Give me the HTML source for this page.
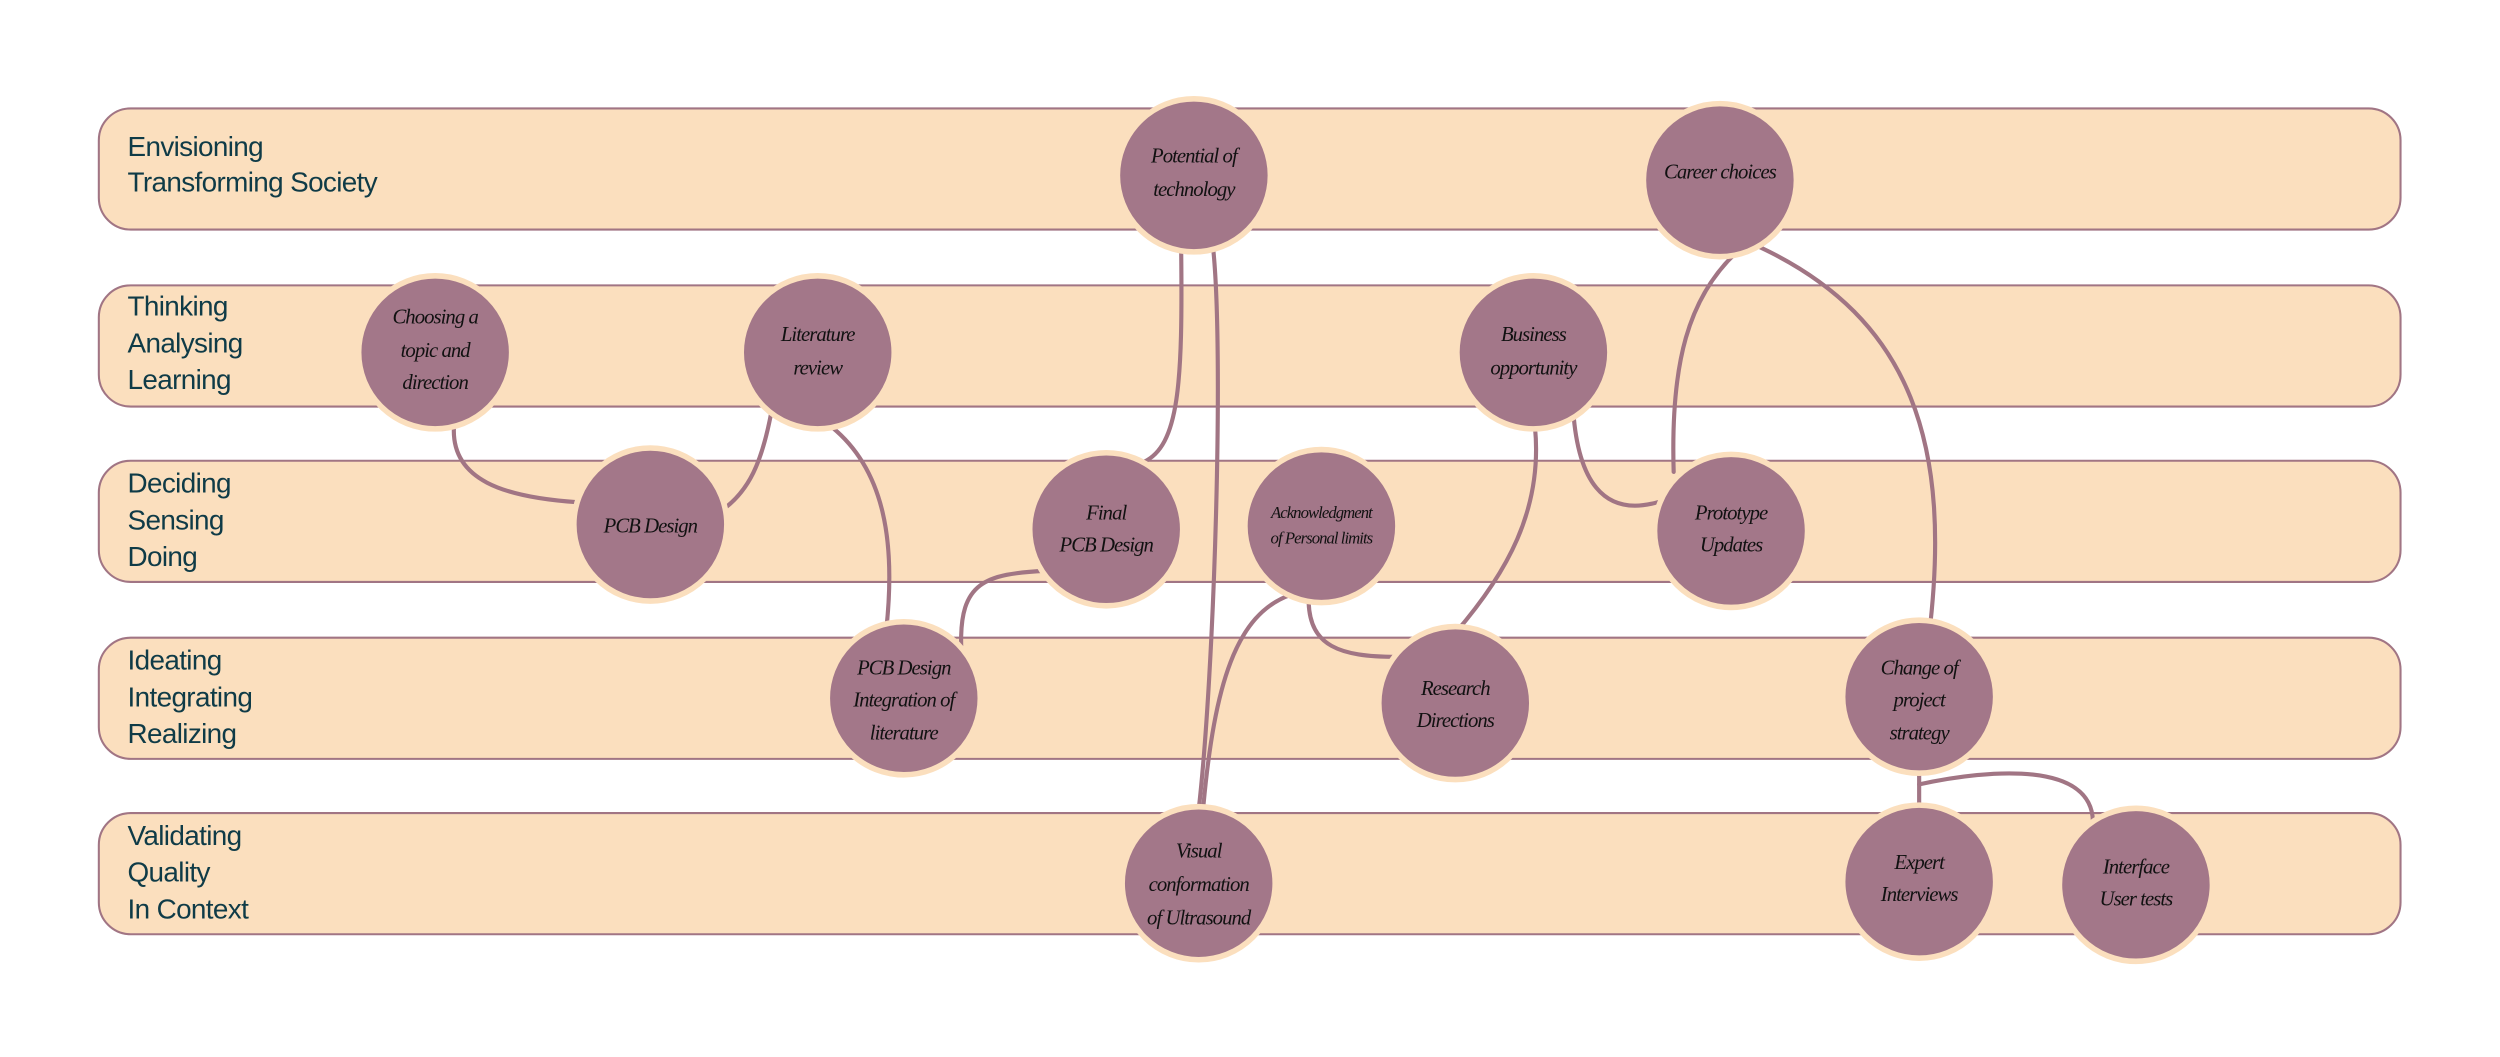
<!DOCTYPE html>
<html><head><meta charset="utf-8"><style>
html,body{margin:0;padding:0;background:#fff;}
svg{display:block;}
.lane{fill:#fbdfbe;stroke:#a17584;stroke-width:1.3;}
.lbl{font-family:"Liberation Sans",sans-serif;font-size:17.5px;fill:#0f3b47;letter-spacing:-0.4px;}
.ln{fill:none;stroke:#a17584;stroke-width:2.6;stroke-linecap:round;}
.ring{fill:#a37789;stroke:#fbdfbe;stroke-width:3.5;}
.t{font-family:"Liberation Serif",serif;font-style:italic;font-size:13px;fill:#111;text-anchor:middle;letter-spacing:-0.6px;}
</style></head><body>
<svg width="2500" height="1057" viewBox="0 0 1568.4 663" preserveAspectRatio="none" xmlns="http://www.w3.org/2000/svg">
<rect class="lane" x="62" y="68" width="1444" height="76" rx="20"/>
<rect class="lane" x="62" y="179" width="1444" height="76" rx="20"/>
<rect class="lane" x="62" y="289" width="1444" height="76" rx="20"/>
<rect class="lane" x="62" y="400" width="1444" height="76" rx="20"/>
<rect class="lane" x="62" y="510" width="1444" height="76" rx="20"/>

<text class="lbl" x="80" y="98">Envisioning</text>
<text class="lbl" x="80" y="120">Transforming Society</text>
<text class="lbl" x="80" y="198">Thinking</text>
<text class="lbl" x="80" y="221">Analysing</text>
<text class="lbl" x="80" y="244">Learning</text>
<text class="lbl" x="80" y="309">Deciding</text>
<text class="lbl" x="80" y="332">Sensing</text>
<text class="lbl" x="80" y="355">Doing</text>
<text class="lbl" x="80" y="420">Ideating</text>
<text class="lbl" x="80" y="443">Integrating</text>
<text class="lbl" x="80" y="466">Realizing</text>
<text class="lbl" x="80" y="530">Validating</text>
<text class="lbl" x="80" y="553">Quality</text>
<text class="lbl" x="80" y="576">In Context</text>

<path class="ln" d="M285,265 C281,302 318,312 362,315"/>
<path class="ln" d="M484,258 C478,290 470,308 453,320"/>
<path class="ln" d="M522,268 C555,295 562,340 556,395"/>
<path class="ln" d="M741,155 C742,240 740,280 717,290"/>
<path class="ln" d="M761,155 C768,220 762,420 752,508"/>
<path class="ln" d="M656,358 C618,360 602,365 603,405"/>
<path class="ln" d="M810,373 C775,385 762,430 755,505"/>
<path class="ln" d="M821,378 C822,405 840,412 876,412"/>
<path class="ln" d="M963,268 C968,320 945,360 913,397"/>
<path class="ln" d="M987,258 C990,300 1005,325 1040,315"/>
<path class="ln" d="M1093,155 C1058,185 1048,230 1050,296"/>
<path class="ln" d="M1104,155 C1200,200 1225,280 1210,400"/>
<path class="ln" d="M1204,480 L1204,510"/>
<path class="ln" d="M1204,492 C1250,482 1312,478 1313,515"/>

<circle class="ring" cx="749" cy="110" r="48"/>
<text class="t" x="749" y="102">Potential of</text><text class="t" x="749" y="123">technology</text>
<circle class="ring" cx="1079" cy="113" r="48"/>
<text class="t" x="1079" y="112">Career choices</text>
<circle class="ring" cx="273" cy="221" r="48"/>
<text class="t" x="273" y="203">Choosing a</text><text class="t" x="273" y="224">topic and</text><text class="t" x="273" y="244">direction</text>
<circle class="ring" cx="513" cy="221" r="48"/>
<text class="t" x="513" y="214">Literature</text><text class="t" x="513" y="235">review</text>
<circle class="ring" cx="962" cy="221" r="48"/>
<text class="t" x="962" y="214">Business</text><text class="t" x="962" y="235">opportunity</text>
<circle class="ring" cx="408" cy="329" r="48"/>
<text class="t" x="408" y="334">PCB Design</text>
<circle class="ring" cx="694" cy="332" r="48"/>
<text class="t" x="694" y="326">Final</text><text class="t" x="694" y="346">PCB Design</text>
<circle class="ring" cx="829" cy="330" r="48"/>
<text class="t" x="829" y="325" style="font-size:10.5px">Acknowledgment</text><text class="t" x="829" y="341" style="font-size:10.5px">of Personal limits</text>
<circle class="ring" cx="1086" cy="333" r="48"/>
<text class="t" x="1086" y="326">Prototype</text><text class="t" x="1086" y="346">Updates</text>
<circle class="ring" cx="567" cy="438" r="48"/>
<text class="t" x="567" y="423">PCB Design</text><text class="t" x="567" y="443">Integration of</text><text class="t" x="567" y="464">literature</text>
<circle class="ring" cx="913" cy="441" r="48"/>
<text class="t" x="913" y="436">Research</text><text class="t" x="913" y="456">Directions</text>
<circle class="ring" cx="1204" cy="437" r="48"/>
<text class="t" x="1204" y="423">Change of</text><text class="t" x="1204" y="443">project</text><text class="t" x="1204" y="464">strategy</text>
<circle class="ring" cx="752" cy="554" r="48"/>
<text class="t" x="752" y="538">Visual</text><text class="t" x="752" y="559">conformation</text><text class="t" x="752" y="580">of Ultrasound</text>
<circle class="ring" cx="1204" cy="553" r="48"/>
<text class="t" x="1204" y="545">Expert</text><text class="t" x="1204" y="565">Interviews</text>
<circle class="ring" cx="1340" cy="555" r="48"/>
<text class="t" x="1340" y="548">Interface</text><text class="t" x="1340" y="568">User tests</text>
</svg>
</body></html>
